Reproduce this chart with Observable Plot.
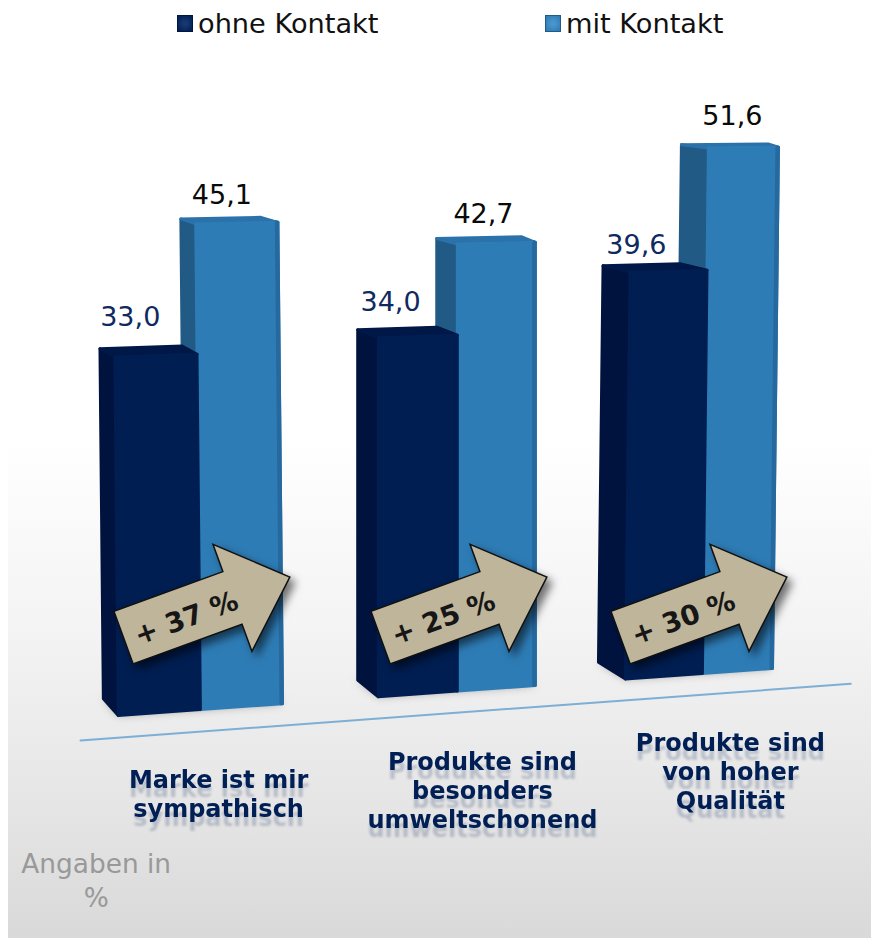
<!DOCTYPE html>
<html lang="de">
<head>
<meta charset="utf-8">
<script src="https://cdn.jsdelivr.net/npm/d3@7"></script>
<script src="https://cdn.jsdelivr.net/npm/@observablehq/plot@0.6"></script>
<style>
html,body{margin:0;padding:0;background:#fff;width:871px;height:938px;overflow:hidden;font-family:"DejaVu Sans",sans-serif}
#bg{position:absolute;left:8px;right:0;top:0;bottom:0;background:linear-gradient(to bottom,#fff 0,#fff 47%,#f3f3f3 68%,#e6e6e6 85%,#d9d9d9 100%)}
#legend{position:relative;height:50px;color:#111;font-size:27.2px}
.key{position:absolute;top:5px;display:flex;align-items:center;height:36px;white-space:nowrap}
.sw{width:16px;height:17px;margin-right:5px;box-sizing:border-box}
#chart{position:relative}
.cat-label{filter:drop-shadow(0 9px 1px rgba(0,31,84,.2))}
.arrow{filter:drop-shadow(5px 5px 4px rgba(0,0,0,.55))}
.foot{filter:blur(4px)}
</style>
</head>
<body>
<div id="bg"></div>
<div id="legend"></div>
<div id="chart"></div>
<script>
// ---- Values
const categories = ["Marke ist mir\nsympathisch", "Produkte sind\nbesonders\numweltschonend", "Produkte sind\nvon hoher\nQualität"];
const seriesNames = ["ohne Kontakt", "mit Kontakt"];
const ohneKontakt = [33.0, 34.0, 39.6];
const mitKontakt = [45.1, 42.7, 51.6];
const uplift = ["+ 37 %", "+ 25 %", "+ 30 %"];
const note = "Angaben in\n%";

// ---- Perspective layout of the pseudo-3D scene (x in category slots, y in percent)
const junction = [0.506, 1.507, 2.462];
const darkWidth = [0.32, 0.308, 0.30];
const lightWidth = [0.32, 0.304, 0.273];
const lean = [-0.0004, 0, 0.00045];
const depth = [0.058, 0.08, 0.105];
const lightBackRight = [0.066, 0.055, 0.04];
const floorStart = 0.15, floorSlope = 1.76;
const factorStart = 1.04, factorSlope = 0.0285;
const darkLabelShift = [-0.10, -0.106, -0.125], darkLabelLift = [3.6, 3.2, 2.5];
const lightLabelShift = [-0.058, -0.05, -0.043], lightLabelLift = [2.6, 2.75, 2.95];
const arrowAt = [0.2065, 1.208, 2.143];
const arrowV = 7.9;
const catX = [0.577, 1.605, 2.571];
const catV = [-6.95, -6.6, -4.8];

const palette = {
  dark: {front: "#001e52", side: "#00133f", top: "#001848"},
  light: {front: "#2e7cb6", side: "#215a85", top: "#2b72aa", edge: "#26699e"}
};

const floor = (u) => floorStart + floorSlope * u;
const factor = (u) => factorStart - factorSlope * u;

function faces(g, kind, value, left, right, backRightShift) {
  const c = palette[kind];
  const at = (u, v, back, shift) => {
    const dx = back ? -shift : 0;
    const dy = back ? 1.6 - 0.025 * v : 0;
    return {x: u + lean[g] * v + dx, y: floor(u) + v * factor(u) + dy};
  };
  const d = depth[g];
  const top = [at(left, value, false), at(left, value, true, d), at(right, value, true, backRightShift), at(right, value, false)];
  const side = [at(left, 0, false), at(left, 0, true, d), at(left, value, true, d), at(left, value, false)];
  const front = [at(left, 0, false), at(right, 0, false), at(right, value, false), at(left, value, false)];
  const list = [["side", c.side, side], ["top", c.top, top], ["front", c.front, front]];
  if (c.edge) {
    const edge = [at(right - 0.006, 0, false), at(right, 0, false), at(right, value, false), at(right - 0.006, value, false)];
    list.push(["edge", c.edge, edge]);
  }
  const rows = [];
  for (const [name, color, pts] of list) {
    for (const p of [...pts, pts[0]]) rows.push({...p, id: `${kind}-${g}-${name}`, color});
  }
  return rows;
}

const lightRows = [], darkRows = [], footRows = [], valueLabels = [];
categories.forEach((_, g) => {
  const j = junction[g];
  const dl = j - darkWidth[g], lr = j + lightWidth[g];
  lightRows.push(...faces(g, "light", mitKontakt[g], j, lr, lightBackRight[g]));
  darkRows.push(...faces(g, "dark", ohneKontakt[g], dl, j, depth[g]));
  for (const [u, dv, back] of [[dl, 0, 0], [dl, 1.6, depth[g]], [lr, 1.6, depth[g]], [lr, 0, 0], [dl, 0, 0]]) {
    footRows.push({x: u - back, y: floor(u) + dv, id: g});
  }
  const dm = (dl + j) / 2, lm = (j + lr) / 2;
  valueLabels.push({
    x: dm + lean[g] * ohneKontakt[g] + darkLabelShift[g],
    y: floor(dm) + ohneKontakt[g] * factor(dm) + darkLabelLift[g],
    text: ohneKontakt[g].toFixed(1).replace(".", ","), fill: "#0f2a5e"
  });
  valueLabels.push({
    x: lm + lean[g] * mitKontakt[g] + lightLabelShift[g],
    y: floor(lm) + mitKontakt[g] * factor(lm) + lightLabelLift[g],
    text: mitKontakt[g].toFixed(1).replace(".", ","), fill: "#0a0a0a"
  });
});

const arrows = arrowAt.map((x, i) => ({x, y: arrowV, text: uplift[i]}));
const arrowShape = {
  draw(ctx, l) {
    const neck = l * 0.655, body = 28, head = 57;
    ctx.moveTo(-body, 0);
    ctx.lineTo(-body, -neck);
    ctx.lineTo(-head, -neck);
    ctx.lineTo(0, -l);
    ctx.lineTo(head, -neck);
    ctx.lineTo(body, -neck);
    ctx.lineTo(body, 0);
    ctx.closePath();
  }
};

const faceLine = (rows) => Plot.line(rows, {x: "x", y: "y", z: "id", fill: "color", stroke: "color", strokeWidth: 3, curve: "linear"});

const chart = Plot.plot({
  width: 871,
  height: 888,
  margin: 0,
  style: {background: "transparent", overflow: "visible", fontFamily: "'DejaVu Sans',sans-serif"},
  x: {type: "linear", domain: [0, 3], range: [70, 840], axis: null},
  y: {type: "linear", domain: [-20, 60], range: [880, 40], axis: null},
  color: {type: "identity"},
  marks: [
    Plot.line(footRows, {x: "x", y: "y", z: "id", fill: "#8f8f8f", stroke: "none", fillOpacity: 0.8, className: "foot"}),
    faceLine(lightRows),
    faceLine(darkRows),
    Plot.line([{x: 0.039, y: -1.9}, {x: 3.04, y: 3.5}], {x: "x", y: "y", stroke: "#7dafd6", strokeWidth: 2}),
    Plot.text(valueLabels, {x: "x", y: "y", text: "text", fill: "fill", fontSize: 27, textAnchor: "middle"}),
    Plot.vector(arrows, {x: "x", y: "y", length: 177, rotate: 70, anchor: "start", shape: arrowShape, fill: "#beb59a", stroke: "#111", strokeWidth: 1.5, strokeLinejoin: "miter", className: "arrow"}),
    Plot.text(arrows, {x: (d) => d.x + 0.245, y: (d) => d.y + 1.81, text: "text", rotate: -20, fontSize: 27.5, fontWeight: "bold", fill: "#161616", textAnchor: "middle"}),
    Plot.text(categories, {x: (_, i) => catX[i], y: (_, i) => catV[i], text: (d) => d, fontSize: 24, fontWeight: "bold", fill: "#001f54", lineHeight: 1.21, textAnchor: "middle", className: "cat-label"}),
    Plot.text([note], {x: () => 0.1, y: () => -15.1, text: (d) => d, fontSize: 26.4, fill: "#999999", lineHeight: 1.3, textAnchor: "middle"})
  ]
});
document.getElementById("chart").appendChild(chart);

// ---- Legend above the SVG
const legend = document.getElementById("legend");
const swatches = [
  {left: 177, bg: "radial-gradient(circle,#17376f 20%,#001f54 90%)", border: "#001545"},
  {left: 545, bg: "radial-gradient(circle,#4a94cc 20%,#2e7cb6 90%)", border: "#215a85"}
];
seriesNames.forEach((name, i) => {
  const key = document.createElement("div");
  key.className = "key";
  key.style.left = swatches[i].left + "px";
  const sw = document.createElement("span");
  sw.className = "sw";
  sw.style.background = swatches[i].bg;
  sw.style.border = "1px solid " + swatches[i].border;
  key.appendChild(sw);
  key.appendChild(document.createTextNode(name));
  legend.appendChild(key);
});
</script>
</body>
</html>
